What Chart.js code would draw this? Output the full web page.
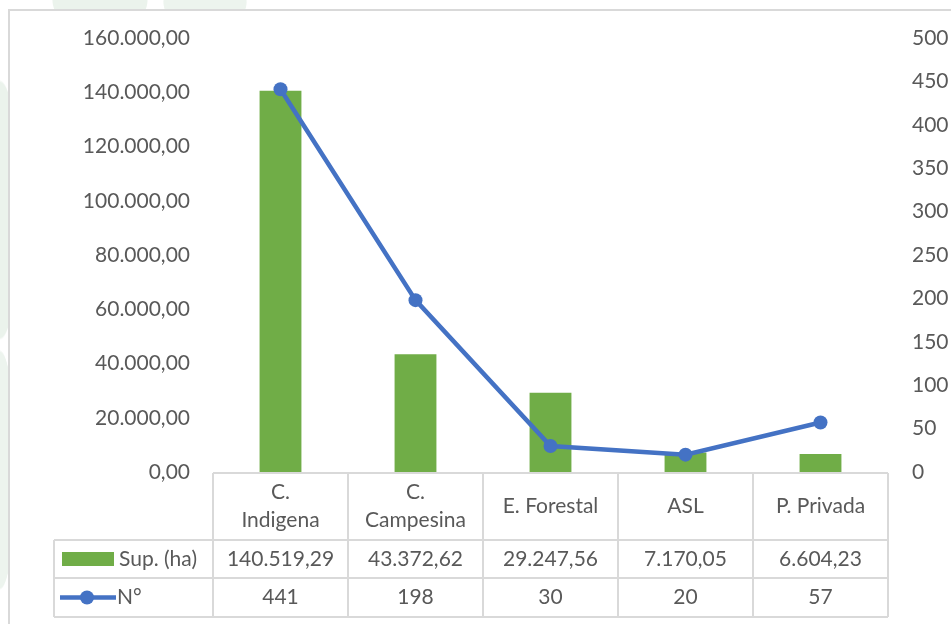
<!DOCTYPE html>
<html>
<head>
    <title>Sup. (ha) y N°</title>
    <style>
        body { margin: 0; background: #fff; }
        #wrap {
            position: relative;
            width: 951px;
            height: 624px;
            /* faint leaf watermark behind the chart frame */
            background:
                radial-gradient(ellipse 48px 34px at 100px 0px, #EBF3EC 98%, transparent 100%),
                radial-gradient(ellipse 42px 30px at 205px 2px, #EDF4EE 98%, transparent 100%),
                radial-gradient(ellipse 20px 130px at 0px 210px, #EBF3EC 98%, transparent 100%),
                radial-gradient(ellipse 16px 120px at 0px 470px, #EDF4EE 98%, transparent 100%),
                #fff;
        }
    </style>
    <script src="https://cdn.jsdelivr.net/npm/chart.js"></script>
</head>
<body>
    <div id="wrap">
        <canvas id="chart1" width="951" height="624"></canvas>
    </div>

    <script>
        // data
        var categories = [['C.', 'Indigena'], ['C.', 'Campesina'], ['E. Forestal'], ['ASL'], ['P. Privada']];
        var supValues = [140519.29, 43372.62, 29247.56, 7170.05, 6604.23];
        var nValues = [441, 198, 30, 20, 57];
        var supLabel = 'Sup. (ha)';
        var nLabel = 'N°';

        var green = '#70AD47';
        var blue = '#4472C4';
        var textColor = '#595959';
        var lineColor = '#D9D9D9';
        var fontFamily = 'Lato, "Liberation Sans", sans-serif';

        // 140519.29 -> 140.519,29
        function fmt(v, dec) {
            var parts = v.toFixed(dec).split('.');
            var intPart = parts[0].replace(/\B(?=(\d{3})+(?!\d))/g, '.');
            return dec > 0 ? intPart + ',' + parts[1] : intPart;
        }

        Chart.defaults.font.family = fontFamily;
        Chart.defaults.font.size = 21;
        Chart.defaults.color = textColor;

        var tablePlugin = {
            id: 'dataTable',
            beforeDraw: function(chart) {
                var ctx = chart.ctx;
                ctx.save();
                // white chart frame with grey top/left edge
                ctx.fillStyle = '#fff';
                ctx.fillRect(9, 10, 942, 614);
                ctx.strokeStyle = lineColor;
                ctx.lineWidth = 2;
                ctx.beginPath();
                ctx.moveTo(9, 624);
                ctx.lineTo(9, 10);
                ctx.lineTo(951, 10);
                ctx.stroke();
                ctx.restore();
            },
            afterDraw: function(chart) {
                var ctx = chart.ctx;
                var xs = chart.scales.x;
                var area = chart.chartArea;
                var half = (xs.getPixelForValue(1) - xs.getPixelForValue(0)) / 2;
                var left = xs.getPixelForValue(0) - half;
                var right = xs.getPixelForValue(categories.length - 1) + half;
                var y0 = area.bottom + 1;
                var y1 = y0 + 67;
                var y2 = y1 + 38;
                var y3 = y2 + 39;
                var legLeft = 54;

                ctx.save();
                ctx.strokeStyle = lineColor;
                ctx.lineWidth = 2;
                ctx.beginPath();
                ctx.moveTo(left, y0); ctx.lineTo(right, y0);
                [y1, y2, y3].forEach(function(y) {
                    ctx.moveTo(legLeft, y); ctx.lineTo(right, y);
                });
                for (var i = 0; i <= categories.length; i++) {
                    var x = left + i * half * 2;
                    ctx.moveTo(x, y0); ctx.lineTo(x, y3);
                }
                ctx.moveTo(legLeft, y1); ctx.lineTo(legLeft, y3);
                ctx.stroke();

                ctx.fillStyle = textColor;
                ctx.font = '21px ' + fontFamily;
                ctx.textAlign = 'center';
                ctx.textBaseline = 'middle';
                categories.forEach(function(lines, i) {
                    var cx = xs.getPixelForValue(i);
                    var mid = (y0 + y1) / 2;
                    var lh = 28;
                    var start = mid - (lines.length - 1) * lh / 2;
                    lines.forEach(function(t, j) {
                        ctx.fillText(t, cx, start + j * lh);
                    });
                    ctx.fillText(fmt(supValues[i], 2), cx, (y1 + y2) / 2);
                    ctx.fillText(fmt(nValues[i], 0), cx, (y2 + y3) / 2);
                });

                // legend keys
                var r1 = (y1 + y2) / 2;
                var r2 = (y2 + y3) / 2;
                ctx.fillStyle = green;
                ctx.fillRect(62, r1 - 7, 52, 14);
                ctx.strokeStyle = blue;
                ctx.lineWidth = 4.5;
                ctx.beginPath();
                ctx.moveTo(60, r2); ctx.lineTo(116, r2);
                ctx.stroke();
                ctx.fillStyle = blue;
                ctx.beginPath();
                ctx.arc(87, r2, 7, 0, Math.PI * 2);
                ctx.fill();

                ctx.fillStyle = textColor;
                ctx.textAlign = 'left';
                ctx.fillText(supLabel, 119, r1);
                ctx.fillText(nLabel, 117, r2);
                ctx.restore();
            }
        };

        var ctx1 = document.getElementById('chart1').getContext('2d');
        var chart1 = new Chart(ctx1, {
            data: {
                labels: categories,
                datasets: [{
                    type: 'line',
                    label: nLabel,
                    data: nValues,
                    yAxisID: 'y1',
                    borderColor: blue,
                    backgroundColor: blue,
                    borderWidth: 4.5,
                    pointRadius: 7,
                    pointBackgroundColor: blue,
                    pointBorderWidth: 0,
                    tension: 0,
                    order: 0
                }, {
                    type: 'bar',
                    label: supLabel,
                    data: supValues,
                    yAxisID: 'y',
                    backgroundColor: green,
                    categoryPercentage: 1,
                    barPercentage: 0.31,
                    order: 1
                }]
            },
            options: {
                responsive: false,
                animation: false,
                layout: {
                    padding: { top: 38, bottom: 152, left: 0, right: 0 }
                },
                plugins: {
                    legend: { display: false },
                    tooltip: { enabled: false }
                },
                scales: {
                    x: {
                        offset: true,
                        grid: { display: false },
                        border: { display: false },
                        ticks: { display: false },
                        afterFit: function(scale) { scale.height = 0; }
                    },
                    y: {
                        position: 'left',
                        min: 0,
                        max: 160000,
                        grid: { display: false },
                        border: { display: false },
                        ticks: {
                            stepSize: 20000,
                            padding: 15,
                            callback: function(v) { return fmt(v, 2); }
                        },
                        afterFit: function(scale) { scale.width = 213; }
                    },
                    y1: {
                        position: 'right',
                        min: 0,
                        max: 500,
                        grid: { display: false },
                        border: { display: false },
                        ticks: {
                            stepSize: 50,
                            padding: 16
                        },
                        afterFit: function(scale) { scale.width = 63; }
                    }
                }
            },
            plugins: [tablePlugin]
        });
    </script>
</body>
</html>
